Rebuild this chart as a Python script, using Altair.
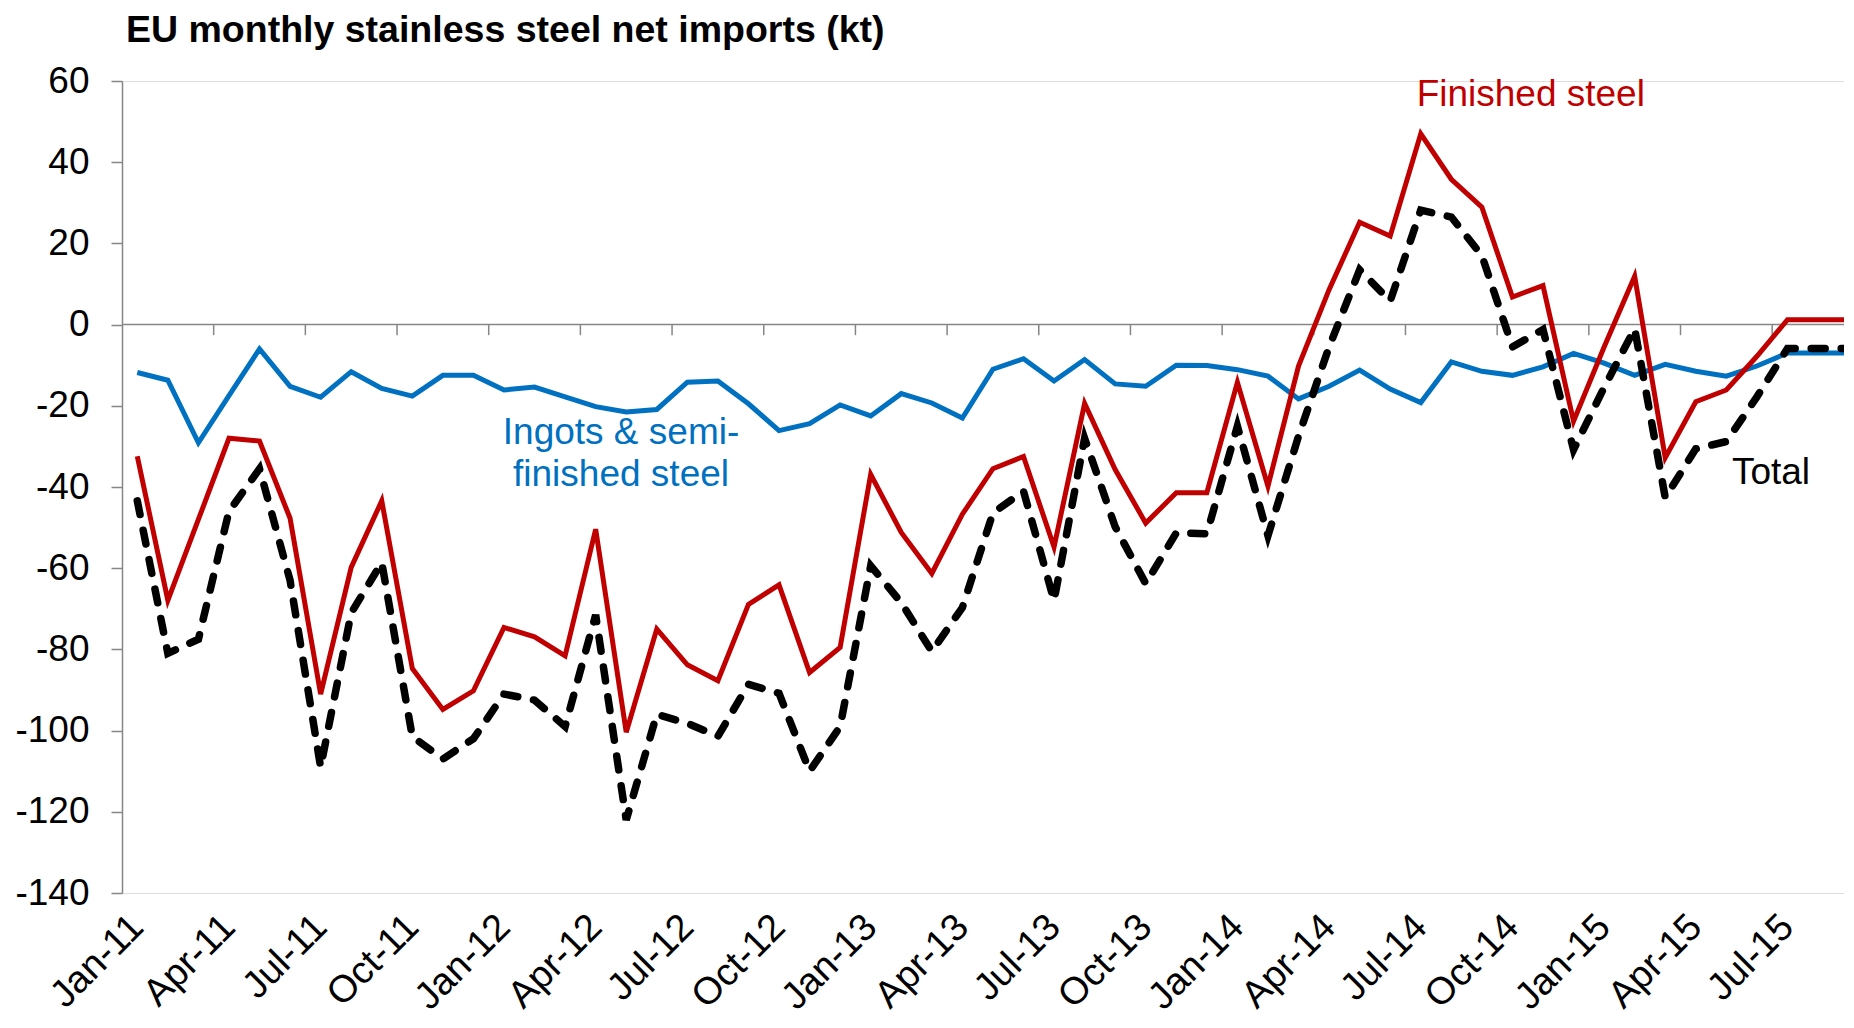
import altair as alt
import pandas as pd

months = [
    "Jan-11", "Feb-11", "Mar-11", "Apr-11", "May-11", "Jun-11", "Jul-11", "Aug-11", "Sep-11", "Oct-11", "Nov-11", "Dec-11",
    "Jan-12", "Feb-12", "Mar-12", "Apr-12", "May-12", "Jun-12", "Jul-12", "Aug-12", "Sep-12", "Oct-12", "Nov-12", "Dec-12",
    "Jan-13", "Feb-13", "Mar-13", "Apr-13", "May-13", "Jun-13", "Jul-13", "Aug-13", "Sep-13", "Oct-13", "Nov-13", "Dec-13",
    "Jan-14", "Feb-14", "Mar-14", "Apr-14", "May-14", "Jun-14", "Jul-14", "Aug-14", "Sep-14", "Oct-14", "Nov-14", "Dec-14",
    "Jan-15", "Feb-15", "Mar-15", "Apr-15", "May-15", "Jun-15", "Jul-15", "Aug-15", "Sep-15",
]

finished = [
    -32.4, -67.9, -48.0, -28.0, -28.7, -47.7, -91.0, -59.8, -43.4, -84.7, -94.8, -90.2,
    -74.6, -76.9, -81.6, -50.4, -100.4, -75.0, -83.8, -87.7, -68.9, -64.1, -85.7, -79.5,
    -36.9, -51.2, -61.3, -46.7, -35.5, -32.5, -54.8, -19.4, -35.7, -48.9, -41.4, -41.4,
    -14.2, -39.8, -10.2, 8.6, 25.2, 21.8, 47.0, 35.8, 28.9, 6.8, 9.6, -23.8,
    -5.5, 11.9, -32.8, -19.0, -16.1, -7.8, 1.2, 1.2, 1.2,
]

ingots = [
    -11.8, -13.7, -29.1, -17.5, -6.0, -15.2, -17.9, -11.6, -15.7, -17.6, -12.5, -12.5,
    -16.1, -15.4, -17.8, -20.2, -21.5, -20.9, -14.2, -13.9, -19.5, -26.1, -24.4, -19.8,
    -22.5, -17.0, -19.3, -23.0, -11.0, -8.4, -13.9, -8.6, -14.6, -15.2, -10.0, -10.1,
    -11.1, -12.7, -18.3, -15.2, -11.2, -15.9, -19.2, -9.2, -11.5, -12.5, -10.4, -7.1,
    -9.5, -12.5, -9.8, -11.5, -12.7, -10.2, -7.0, -7.0, -7.0,
]

total = [
    -43.4, -81.0, -77.5, -46.0, -35.5, -63.0, -109.0, -71.0, -58.6, -101.5, -107.0, -102.0,
    -91.0, -92.5, -99.0, -71.5, -122.0, -96.0, -98.2, -101.4, -88.6, -90.8, -110.0, -99.0,
    -59.4, -68.5, -80.5, -69.7, -46.4, -41.0, -68.0, -28.0, -49.8, -63.8, -51.3, -51.5,
    -25.0, -52.0, -27.5, -5.5, 13.5, 5.8, 28.2, 26.5, 17.0, -5.5, -1.2, -30.8,
    -15.5, -1.0, -42.6, -30.6, -28.8, -17.8, -5.9, -5.9, -5.9,
]

tick_labels = ["Jan-11", "Apr-11", "Jul-11", "Oct-11", "Jan-12", "Apr-12", "Jul-12", "Oct-12",
               "Jan-13", "Apr-13", "Jul-13", "Oct-13", "Jan-14", "Apr-14", "Jul-14", "Oct-14",
               "Jan-15", "Apr-15", "Jul-15"]
y_ticks = [-140, -120, -100, -80, -60, -40, -20, 0, 20, 40, 60]

TITLE = "EU monthly stainless steel net imports (kt)"
FONT = "Liberation Sans"
RED = "#C00000"
BLUE = "#0070C0"
GREY = "#868686"

idx = list(range(len(months)))
df = pd.DataFrame({"i": idx, "month": months, "finished": finished, "ingots": ingots, "total": total})

tick_pos = [months.index(m) for m in tick_labels]
label_expr = "{" + ",".join(f"'{p}':'{m}'" for p, m in zip(tick_pos, tick_labels)) + "}[datum.value]"

xscale = alt.Scale(domain=[-0.5, 55.85], nice=False, zero=False)
yscale = alt.Scale(domain=[-140, 60], nice=False, zero=False)

xaxis = alt.Axis(values=tick_pos, labelExpr=label_expr, labelAngle=-45, labelAlign="right",
                 labelBaseline="middle", labelPadding=28, ticks=False, domain=False, grid=False,
                 labelFontSize=38, labelFont=FONT, labelColor="black", title=None,
                 labelOverlap=False, labelBound=False, labelFlush=False)
yaxis = alt.Axis(values=y_ticks, labelExpr="datum.value + ''", grid=False, domainColor=GREY,
                 domainWidth=1.5, tickColor=GREY, tickWidth=1.5, tickSize=11, labelPadding=22,
                 labelFontSize=37, labelFont=FONT, labelColor="black", title=None)

base = alt.Chart(df)

x_enc = alt.X("i:Q", scale=xscale, axis=xaxis, title=None)

zero_rule = alt.Chart(pd.DataFrame({"v": [0]})).mark_rule(color=GREY, strokeWidth=1.5).encode(
    y=alt.Y("v:Q", scale=yscale, axis=yaxis, title=None)
)

bounds = pd.DataFrame({"b": [p - 0.5 for p in tick_pos[1:]]})
cat_ticks = alt.Chart(bounds).mark_rule(color=GREY, strokeWidth=1.5).encode(
    x=alt.X("b:Q", scale=xscale, axis=xaxis, title=None),
    y=alt.datum(0),
    y2=alt.datum(-2.6),
)

blue_line = base.mark_line(color=BLUE, strokeWidth=5).encode(
    x=x_enc, y=alt.Y("ingots:Q", scale=yscale, axis=yaxis, title=None)
)
red_line = base.mark_line(color=RED, strokeWidth=5).encode(
    x=x_enc, y=alt.Y("finished:Q", scale=yscale, axis=yaxis, title=None)
)
black_line = base.mark_line(color="black", strokeWidth=7.5, strokeDash=[14, 16], strokeCap="round").encode(
    x=x_enc, y=alt.Y("total:Q", scale=yscale, axis=yaxis, title=None)
)

ann = pd.DataFrame({
    "x": [45.6, 15.83, 53.46],
    "y": [56.6, -26.6, -36.5],
    "label": ["Finished steel", "Ingots & semi-\nfinished steel", "Total"],
    "col": [RED, BLUE, "black"],
})
texts = alt.Chart(ann).mark_text(font=FONT, fontSize=37, lineBreak="\n", lineHeight=42,
                                 align="center", baseline="middle").encode(
    x=alt.X("x:Q", scale=xscale, axis=xaxis, title=None),
    y=alt.Y("y:Q", scale=yscale, axis=yaxis, title=None),
    text="label:N",
    color=alt.Color("col:N", scale=None, legend=None),
)

title_text = alt.Chart(pd.DataFrame({"t": [TITLE]})).mark_text(
    font=FONT, fontSize=37.5, fontWeight="bold", color="black", align="left", baseline="alphabetic"
).encode(text="t:N", x=alt.value(4), y=alt.value(-39))

chart = alt.layer(zero_rule, cat_ticks, blue_line, red_line, black_line, texts, title_text).properties(
    width=1722,
    height=812,
    autosize=alt.AutoSizeParams(type="none"),
    padding={"left": 114, "top": 73, "right": 0, "bottom": 124},
).configure_view(stroke=None).configure(background="white")

chart.save("out.html", embed_options={"renderer": "svg", "actions": False})
